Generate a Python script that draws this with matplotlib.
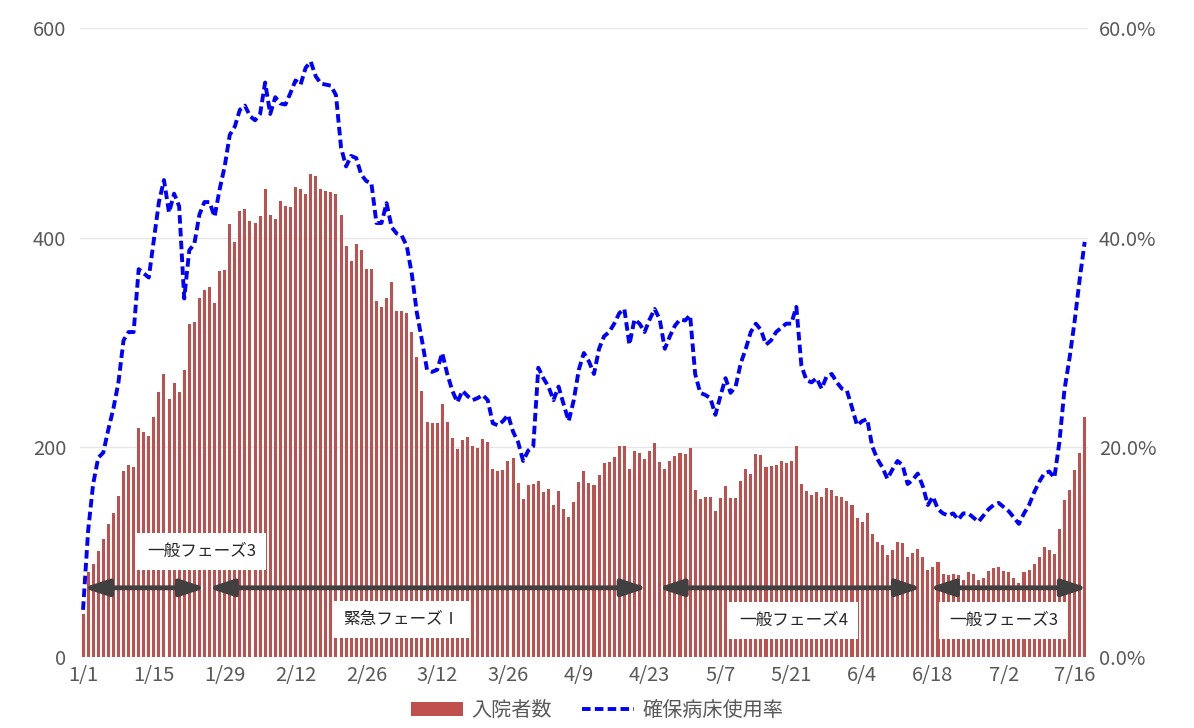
import matplotlib
matplotlib.use("Agg")
import matplotlib.pyplot as plt
from matplotlib.ticker import FuncFormatter

plt.rcParams['font.family'] = ['Noto Sans CJK JP', 'DejaVu Sans']

# 2022/1/1 - 7/18, daily
tick_labels = ['1/1', '1/15', '1/29', '2/12', '2/26', '3/12', '3/26', '4/9',
               '4/23', '5/7', '5/21', '6/4', '6/18', '7/2', '7/16']

# 入院者数
inpatients = [
    41, 81, 89, 101, 113, 127, 137, 154, 177, 183,
    181, 218, 215, 211, 229, 253, 270, 246, 261, 253,
    274, 318, 320, 342, 350, 353, 338, 368, 369, 413,
    396, 425, 427, 416, 414, 421, 446, 422, 418, 435,
    430, 429, 448, 446, 442, 461, 459, 446, 445, 444,
    442, 422, 392, 378, 394, 388, 370, 370, 340, 334,
    342, 358, 330, 330, 328, 310, 286, 254, 224, 223,
    223, 241, 224, 209, 198, 207, 210, 201, 199, 208,
    205, 179, 177, 178, 187, 190, 166, 151, 164, 165,
    168, 157, 160, 145, 158, 141, 134, 148, 167, 177,
    166, 164, 174, 185, 186, 191, 201, 201, 179, 197,
    195, 189, 197, 204, 186, 179, 187, 192, 195, 194,
    199, 159, 151, 153, 153, 139, 152, 163, 152, 152,
    168, 179, 175, 194, 193, 181, 182, 183, 187, 185,
    187, 201, 165, 158, 155, 157, 153, 161, 159, 154,
    153, 149, 145, 133, 129, 137, 117, 110, 107, 97,
    102, 110, 109, 95, 99, 103, 95, 83, 86, 91,
    79, 78, 79, 78, 73, 81, 79, 73, 75, 82,
    85, 86, 82, 81, 75, 71, 81, 83, 89, 95,
    105, 102, 98, 122, 150, 159, 178, 195, 229,
]

# 確保病床使用率 (%)
bed_rate = [
    4.5, 12.0, 16.5, 19.0, 19.5, 21.7, 23.7, 26.2, 30.2, 31.0,
    31.0, 37.0, 36.6, 36.2, 39.8, 43.4, 45.5, 42.4, 44.2, 43.0,
    34.2, 38.8, 39.4, 42.2, 43.4, 43.4, 42.0, 44.6, 46.8, 49.8,
    50.6, 52.2, 52.6, 51.6, 51.2, 51.8, 54.8, 51.8, 53.4, 52.8,
    52.7, 53.8, 55.0, 54.6, 56.2, 56.8, 55.4, 54.7, 54.6, 54.5,
    53.6, 48.6, 46.8, 47.8, 47.6, 46.0, 45.4, 45.2, 41.4, 41.4,
    43.3, 41.0, 40.4, 40.2, 39.2, 36.5, 32.8, 30.2, 27.4, 27.2,
    27.4, 29.0, 27.0, 25.4, 24.3, 25.4, 24.9, 24.5, 24.7, 25.0,
    24.5, 22.3, 22.1, 22.5, 23.1, 21.5, 20.5, 18.7, 19.7, 20.1,
    27.6, 26.6, 25.8, 24.5, 25.8, 24.1, 22.5, 24.5, 27.4, 29.0,
    28.2, 27.0, 29.4, 30.6, 31.0, 31.8, 32.8, 33.2, 29.8, 32.2,
    31.8, 31.0, 32.2, 33.2, 32.2, 29.4, 30.6, 31.6, 32.2, 32.1,
    32.6, 27.0, 25.2, 25.0, 24.7, 23.1, 24.9, 26.6, 25.2, 25.8,
    28.0, 29.4, 31.0, 31.8, 31.2, 29.8, 30.2, 31.0, 31.4, 31.8,
    31.8, 33.4, 27.8, 26.4, 26.2, 26.6, 25.6, 26.8, 27.0, 26.2,
    25.6, 25.4, 23.8, 22.1, 22.5, 22.7, 20.1, 18.9, 18.1, 17.0,
    17.9, 18.7, 18.3, 16.5, 16.9, 17.5, 16.3, 14.5, 15.3, 14.1,
    13.7, 13.5, 13.7, 13.1, 13.7, 13.7, 13.3, 12.9, 13.5, 14.1,
    14.5, 14.7, 14.3, 13.9, 13.3, 12.7, 13.7, 14.5, 15.7, 16.7,
    17.5, 17.7, 17.1, 20.5, 25.5, 28.5, 32.0, 36.0, 39.6,
]

# phases: (label, start day, end day, label x, label y)
phases = [
    ('一般フェーズ3', 0, 24.3, 23.5, 101),
    ('緊急フェーズⅠ', 24.7, 111.6, 63, 36),
    ('一般フェーズ4', 113.6, 165.8, 140.5, 35),
    ('一般フェーズ3', 167.2, 198.6, 182, 35),
]

days = list(range(len(inpatients)))
gray = '#595959'

fig = plt.figure(figsize=(11.94, 7.28), dpi=100)
ax = fig.add_axes([0.067, 0.0975, 0.844, 0.864])
ax2 = ax.twinx()

bars = ax.bar(days, inpatients, width=0.6, color='#c0504d', label='入院者数', zorder=2)
line, = ax2.plot(days, bed_rate, color='#0000ff', lw=2.8, ls=(0, (2.2, 1.1)),
                 label='確保病床使用率', zorder=3)

ax.set_xlim(-0.6, len(days) - 0.4)
ax.set_ylim(0, 600)
ax2.set_ylim(0, 60)
ax.set_yticks([0, 200, 400, 600])
ax2.set_yticks([0, 20, 40, 60])
ax2.yaxis.set_major_formatter(FuncFormatter(lambda v, p: f'{v:.1f}%'))
ax.set_xticks(range(0, len(days), 14))
ax.set_xticklabels(tick_labels)

ax.grid(axis='y', color='#e6e6e6', lw=1, zorder=0)
ax.set_axisbelow(True)
for a in (ax, ax2):
    for s in a.spines.values():
        s.set_visible(False)
    a.tick_params(length=0, labelsize=14.5, labelcolor=gray)
ax.tick_params(axis='x', pad=6)
ax.tick_params(axis='y', pad=10)
ax2.tick_params(axis='y', pad=8)

for name, x0, x1, tx, ty in phases:
    ax.annotate('', xy=(x1, 66), xytext=(x0, 66),
                arrowprops=dict(arrowstyle='<|-|>,head_length=1.5,head_width=0.5',
                                color='#404040', lw=3.5, shrinkA=0, shrinkB=0,
                                mutation_scale=10), zorder=4)
    ax.text(tx, ty, name, ha='center', va='center', fontsize=12, color='#262626',
            zorder=5, bbox=dict(boxstyle='square,pad=0.6', fc='white', ec='none'))

fig.legend(handles=[bars, line], loc='lower center', bbox_to_anchor=(0.5, -0.015),
           ncol=2, frameon=False, fontsize=14.5, labelcolor=gray,
           handlelength=2.6, columnspacing=1.5, handletextpad=0.4)

fig.savefig('out.png', dpi=100)
